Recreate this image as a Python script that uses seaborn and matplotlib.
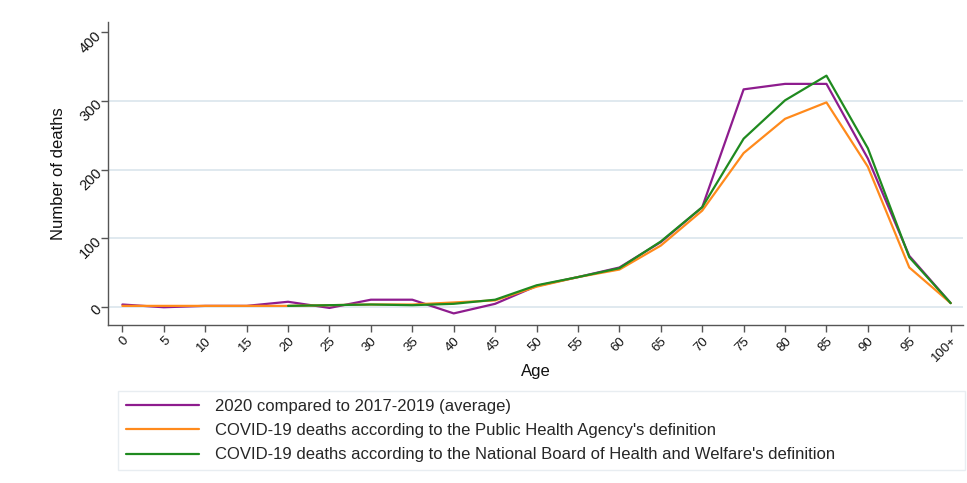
import numpy as np
import pandas as pd
import matplotlib
matplotlib.use("Agg")
import matplotlib.pyplot as plt
import seaborn as sns

ages = ["0", "5", "10", "15", "20", "25", "30", "35", "40", "45", "50",
        "55", "60", "65", "70", "75", "80", "85", "90", "95", "100+"]

excess_2020 = [3, -1, 1, 1, 7, -2, 10, 10, -10, 4, 30,
               43, 57, 94, 145, 317, 325, 325, 216, 74, 5]
covid_pha = [1, 1, 1, 1, 1, 2, 3, 3, 6, 9, 29,
             43, 54, 89, 140, 224, 274, 298, 204, 57, 5]
covid_nbhw = [np.nan, np.nan, np.nan, np.nan, 1, 2, 3, 2, 4, 10, 31,
              43, 56, 95, 145, 245, 301, 337, 231, 72, 5]

series_names = [
    "2020 compared to 2017-2019 (average)",
    "COVID-19 deaths according to the Public Health Agency's definition",
    "COVID-19 deaths according to the National Board of Health and Welfare's definition",
]
colors = ["#8e1c8e", "#ff8a1c", "#1f8a1f"]

frames = []
for name, vals in zip(series_names, [excess_2020, covid_pha, covid_nbhw]):
    frames.append(pd.DataFrame({"pos": np.arange(len(ages)), "deaths": vals, "series": name}))
df = pd.concat(frames, ignore_index=True).dropna()

sns.set_theme(style="white")
plt.rcParams["font.family"] = ["Liberation Sans", "DejaVu Sans"]

fig = plt.figure(figsize=(9.67, 4.83), dpi=100)
ax = fig.add_axes([0.112, 0.327, 0.884, 0.627])

for y in [0, 100, 200, 300]:
    ax.axhline(y, color="#dde7ee", lw=1.3, zorder=0)

sns.lineplot(data=df, x="pos", y="deaths", hue="series", hue_order=series_names,
             palette=colors, linewidth=1.6, sort=False, ax=ax, legend=True)

ax.set_xlim(-0.34, 20.3)
ax.set_ylim(-27, 415)
ax.set_xticks(np.arange(len(ages)))
ax.set_xticklabels(ages, rotation=45, ha="right", rotation_mode="anchor", fontsize=9.5)
ax.set_yticks([0, 100, 200, 300, 400])
ax.set_yticklabels(["0", "100", "200", "300", "400"], rotation=45, ha="right",
                   rotation_mode="anchor", fontsize=10.5)
ax.tick_params(axis="both", which="major", direction="out", length=5, width=1,
               color="#555555", labelcolor="#111111", bottom=True, left=True, pad=2)
for side in ["top", "right"]:
    ax.spines[side].set_visible(False)
for side in ["left", "bottom"]:
    ax.spines[side].set_color("#555555")
    ax.spines[side].set_linewidth(1)

ax.set_xlabel("Age", fontsize=12, color="#111111")
ax.set_ylabel("Number of deaths", fontsize=12, color="#111111")
ax.xaxis.set_label_coords(0.5, -0.13)
ax.yaxis.set_label_coords(-0.05, 0.5)

handles, labels = ax.get_legend_handles_labels()
ax.legend_.remove()
leg = fig.legend(handles, labels, loc="lower left",
                 bbox_to_anchor=(118 / 967, 1 - 470 / 483, (965 - 118) / 967, (470 - 388) / 483),
                 mode="expand", frameon=True, fancybox=False, fontsize=12.0,
                 handlelength=4.4, handletextpad=0.95, labelspacing=0.57,
                 borderaxespad=0, borderpad=0.45)
leg.get_frame().set_edgecolor("#e3e9ee")
leg.get_frame().set_linewidth(1)
for line in leg.get_lines():
    line.set_linewidth(1.6)

fig.savefig("out.png", dpi=100, facecolor="white")
